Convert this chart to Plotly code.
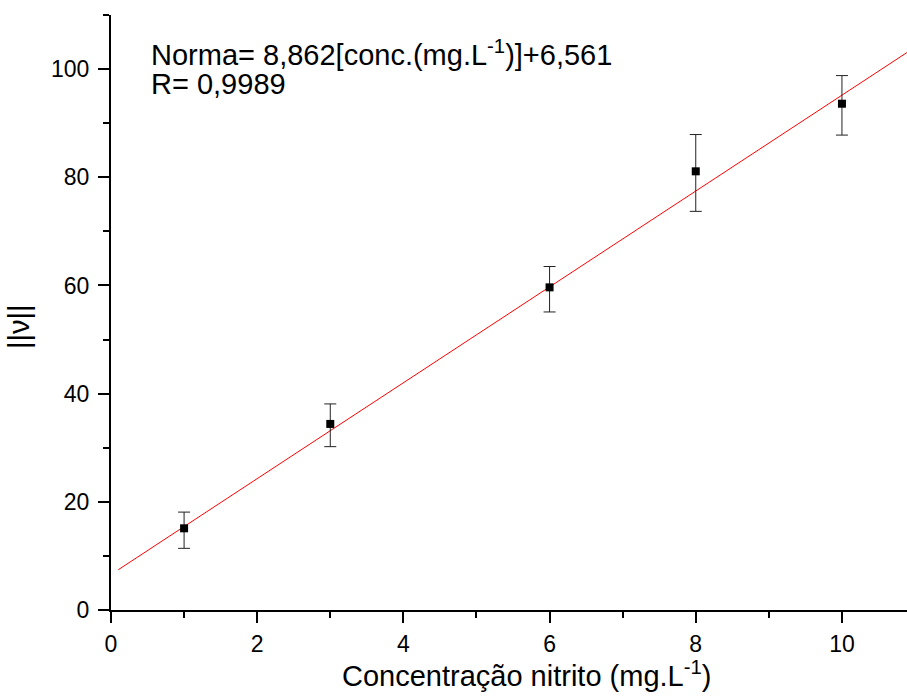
import plotly.graph_objects as go

# Data
conc = [1, 3, 6, 8, 10]
norma = [15.1, 34.4, 59.65, 81.1, 93.6]
err_plus = [3.0, 3.7, 3.85, 6.8, 5.2]
err_minus = [3.7, 4.2, 4.55, 7.4, 5.8]

fit_slope = 8.862
fit_intercept = 6.561
fit_x = [0.1, 10.9]
fit_y = [fit_slope * x + fit_intercept for x in fit_x]

eq_text = "Norma= 8,862[conc.(mg.L<sup>-1</sup>)]+6,561"
r_text = "R= 0,9989"
x_title = "Concentração nitrito (mg.L<sup>-1</sup>)"
y_title = "||ν||"

FONT = "Liberation Sans, Arial, sans-serif"

L, R, T, B = 111, 0, 15, 87
PW = 907 - L - R

fig = go.Figure()
fig.add_trace(go.Scatter(
    x=fit_x, y=fit_y, mode="lines",
    line=dict(color="#ff0000", width=1), showlegend=False, hoverinfo="skip"))
fig.add_trace(go.Scatter(
    x=conc, y=norma, mode="markers",
    marker=dict(symbol="square", size=8, color="black"),
    error_y=dict(type="data", symmetric=False, array=err_plus, arrayminus=err_minus,
                 color="#222222", thickness=1, width=6),
    showlegend=False))

fig.update_layout(
    width=907, height=697,
    margin=dict(l=L, r=R, t=T, b=B),
    paper_bgcolor="white", plot_bgcolor="white",
    font=dict(family=FONT, color="black", size=23),
    xaxis=dict(range=[0, 10.89], tickvals=[0, 2, 4, 6, 8, 10], showgrid=False, zeroline=False,
               showline=True, linecolor="black", linewidth=2,
               ticks="outside", ticklen=11, tickwidth=2, tickcolor="black",
               ticklabelstandoff=1, tickfont=dict(size=23),
               minor=dict(dtick=1, tick0=0, ticks="outside", ticklen=6, tickwidth=2, tickcolor="black")),
    yaxis=dict(range=[0, 110], tickvals=[0, 20, 40, 60, 80, 100], showgrid=False, zeroline=False,
               showline=True, linecolor="black", linewidth=2,
               ticks="outside", ticklen=11, tickwidth=2, tickcolor="black",
               ticklabelstandoff=4, tickfont=dict(size=23),
               minor=dict(dtick=10, tick0=0, ticks="outside", ticklen=6, tickwidth=2, tickcolor="black")),
    annotations=[
        dict(x=0.52, y=103.0, xref="x", yref="y", text=eq_text, showarrow=False,
             xanchor="left", yanchor="middle", font=dict(size=29)),
        dict(x=0.52, y=97.3, xref="x", yref="y", text=r_text, showarrow=False,
             xanchor="left", yanchor="middle", font=dict(size=29)),
        dict(x=5.69, y=0, xref="x", yref="paper", text=x_title, showarrow=False,
             xanchor="center", yanchor="bottom", yshift=-84, font=dict(size=29)),
        dict(x=(19 - L) / PW, y=52.3, xref="paper", yref="y", text=y_title, showarrow=False,
             textangle=-90, xanchor="center", yanchor="middle", font=dict(size=29)),
    ],
)

fig.write_html("out.html",
               config={"displayModeBar": False},
               post_script="document.body.style.margin='0';document.body.style.overflow='hidden';")
